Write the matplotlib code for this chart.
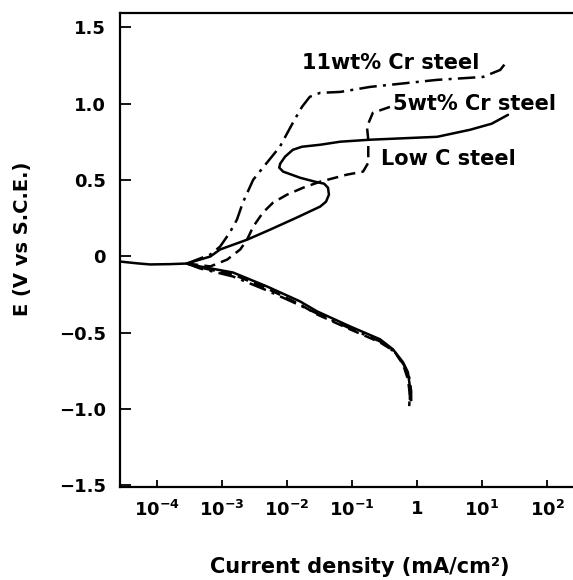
import matplotlib
matplotlib.use("Agg")
import matplotlib.pyplot as plt
import numpy as np

plt.rcParams['font.family'] = ['DejaVu Sans']
plt.rcParams['font.weight'] = 'bold'
plt.rcParams['mathtext.default'] = 'bf'

# Shared rest-potential segment (log10 current, potential in V vs SCE)
rest_logi = [-4.57, -4.30, -4.11, -3.80, -3.54]
rest_E = [-0.033, -0.045, -0.052, -0.050, -0.046]

# Anodic branches
lowc_logi = [-3.54, -3.18, -3.03, -2.615, -2.26, -1.85, -1.49, -1.40, -1.355, -1.37,
             -1.43, -1.57, -1.80, -2.06, -2.12, -2.105, -2.03, -1.91, -1.77, -1.49,
             -1.18, -0.72, 0.31, 0.815, 1.15, 1.40]
lowc_E = [-0.046, 0.000, 0.046, 0.110, 0.176, 0.255, 0.327, 0.359, 0.405, 0.451,
          0.477, 0.490, 0.516, 0.556, 0.582, 0.608, 0.654, 0.699, 0.719, 0.732,
          0.752, 0.765, 0.784, 0.830, 0.870, 0.928]

cr11_logi = [-3.54, -3.18, -3.03, -2.88, -2.77, -2.68, -2.52, -2.31, -2.11, -1.91,
             -1.77, -1.65, -1.49, -1.18, -0.72, 0.31, 1.015, 1.28, 1.40]
cr11_E = [-0.046, 0.013, 0.065, 0.157, 0.242, 0.353, 0.503, 0.614, 0.719, 0.876,
          0.980, 1.046, 1.072, 1.078, 1.111, 1.157, 1.176, 1.222, 1.287]

cr5_logi = [-3.54, -3.18, -2.92, -2.72, -2.615, -2.52, -2.37, -2.215, -2.00, -1.75,
            -1.49, -1.08, -0.83, -0.75, -0.75, -0.77, -0.68, -0.415]
cr5_E = [-0.046, -0.065, -0.020, 0.046, 0.110, 0.196, 0.288, 0.353, 0.405, 0.451,
         0.490, 0.536, 0.556, 0.614, 0.765, 0.850, 0.941, 0.980]

# Cathodic branches
lowc_c_logi = [-3.54, -3.34, -2.83, -2.31, -1.80, -1.54, -1.03, -0.57, -0.37, -0.215,
               -0.14, -0.11, -0.11]
lowc_c_E = [-0.046, -0.065, -0.105, -0.196, -0.294, -0.359, -0.458, -0.542, -0.608,
            -0.693, -0.758, -0.850, -0.935]

cr11_c_logi = [-3.54, -3.34, -2.83, -2.31, -1.80, -1.54, -1.03, -0.57, -0.34, -0.20,
               -0.12, -0.09, -0.09]
cr11_c_E = [-0.046, -0.078, -0.131, -0.222, -0.320, -0.373, -0.471, -0.556, -0.627,
            -0.712, -0.791, -0.882, -0.948]

cr5_c_logi = [-3.54, -3.34, -2.83, -2.31, -1.80, -1.54, -1.03, -0.57, -0.35, -0.215,
              -0.14, -0.11, -0.12]
cr5_c_E = [-0.046, -0.072, -0.118, -0.209, -0.314, -0.379, -0.477, -0.562, -0.621,
           -0.706, -0.804, -0.902, -0.980]

xtick_exp = [-4, -3, -2, -1, 0, 1, 2]
xtick_labels = [r'$10^{-4}$', r'$10^{-3}$', r'$10^{-2}$', r'$10^{-1}$', '1',
                r'$10^{1}$', r'$10^{2}$']
ytick_vals = [1.5, 1.0, 0.5, 0.0, -0.5, -1.0, -1.5]
ytick_labels = ['1.5', '1.0', '0.5', '0', '\u22120.5', '\u22121.0', '\u22121.5']

fig = plt.figure(figsize=(5.73, 5.80), dpi=100)
ax = fig.add_axes([0.2094, 0.1603, 0.7906, 0.8173])

lw = 1.8
solid = dict(color='black', lw=lw, solid_capstyle='round', solid_joinstyle='round')
ax.plot(10 ** np.array(rest_logi), rest_E, **solid)
ax.plot(10 ** np.array(lowc_logi), lowc_E, **solid)
ax.plot(10 ** np.array(lowc_c_logi), lowc_c_E, **solid)

dashdot = (0, (7, 2.5, 1.2, 2.5))
ax.plot(10 ** np.array(cr11_logi), cr11_E, color='black', lw=lw, linestyle=dashdot)
ax.plot(10 ** np.array(cr11_c_logi), cr11_c_E, color='black', lw=lw, linestyle=dashdot)

dashed = (0, (4.5, 2.5))
ax.plot(10 ** np.array(cr5_logi), cr5_E, color='black', lw=lw, linestyle=dashed)
ax.plot(10 ** np.array(cr5_c_logi), cr5_c_E, color='black', lw=lw, linestyle=dashed)

ax.set_xscale('log')
ax.set_xlim(10 ** -4.57, 10 ** 2.4)
ax.set_ylim(-1.51, 1.595)

ax.set_xticks([10.0 ** e for e in xtick_exp])
ax.set_xticklabels(xtick_labels, fontsize=13)
ax.xaxis.set_minor_locator(matplotlib.ticker.NullLocator())
ax.set_yticks(ytick_vals)
ax.set_yticklabels(ytick_labels, fontsize=13)

ax.tick_params(axis='x', direction='in', length=5, width=1.3, pad=9)
ax.tick_params(axis='y', direction='in', length=8, width=1.3, pad=10)

for side in ('left', 'bottom', 'top'):
    ax.spines[side].set_linewidth(1.6)
ax.spines['right'].set_visible(False)

ax.set_xlabel('Current density (mA/cm\u00b2)', fontsize=15, fontweight='bold')
ax.xaxis.set_label_coords(0.53, -0.148)
ax.set_ylabel('E (V vs S.C.E.)', fontsize=14, fontweight='bold')
ax.yaxis.set_label_coords(-0.194, 0.523)

lbl = dict(fontsize=15, fontweight='bold', va='center', ha='left')
ax.text(10 ** -1.77, 1.27, '11wt% Cr steel', **lbl)
ax.text(10 ** -0.37, 1.00, '5wt% Cr steel', **lbl)
ax.text(10 ** -0.555, 0.64, 'Low C steel', **lbl)

fig.savefig('out.png', dpi=100)
